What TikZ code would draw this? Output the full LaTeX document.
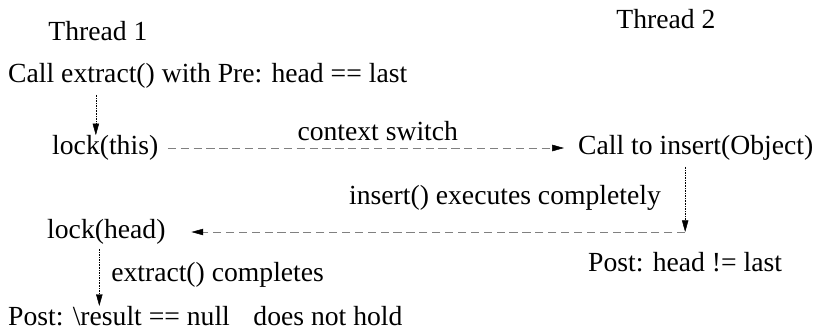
\documentclass[tikz,border=0pt]{standalone}
\usepackage{fontspec}
\setmainfont{Liberation Serif}
\usetikzlibrary{arrows.meta}
\begin{document}
\begin{tikzpicture}[x=0.03cm, y=-0.03cm,
        every node/.style={font=\fontsize{23.6}{28}\selectfont, inner sep=0pt, text=black},
        flow/.style={densely dotted, -{Triangle[length=10pt, width=5.5pt]}},
        switch/.style={dash pattern=on 7pt off 4pt, gray, -{Triangle[length=10pt, width=5.5pt, black]}}]
        \useasboundingbox (0,0) rectangle (814,333);
        \node (t1) at (98,31) {Thread 1};
        \node (t2) at (666,19) {Thread 2};
        \node[anchor=west] (call) at (8,76) {Call extract() with Pre: head == last};
        \node[anchor=west] (lockthis) at (52,148) {lock(this)};
        \node[anchor=west] (insert) at (578,148) {Call to insert(Object)};
        \node[anchor=west] (posti) at (588,262) {Post: head != last};
        \node[anchor=west] (lockhead) at (47,232) {lock(head)};
        \node[anchor=west] (postx) at (8,316) {Post: \textbackslash result == null\hspace{0.85em}does not hold};
        % thread 1 runs until the switch
        \draw[flow] ([xshift=-8pt]call.south -| lockthis.north) ++(0,6) -- ([xshift=-8pt]lockthis.north);
        \draw[switch] ([xshift=8pt]lockthis.east) -- node[pos=0.53, above=6pt]{context switch} ([xshift=-12pt]insert.west);
        % thread 2 finishes insert()
        \draw[flow] ([xshift=-9pt]insert.south) ++(0,6) coordinate (i0) -- (i0 |- lockhead) coordinate (i1);
        \draw[switch] (i1) -- node[pos=0.365, above=18pt]{insert() executes completely} ([xshift=22pt]lockhead.east);
        % back in thread 1
        \draw[flow] ([xshift=-6pt]lockhead.south) ++(0,4) -- ([xshift=-6pt]lockhead.south |- postx.north)
            node[pos=0.45, right=10pt, anchor=west]{extract() completes};
\end{tikzpicture}
\end{document}
